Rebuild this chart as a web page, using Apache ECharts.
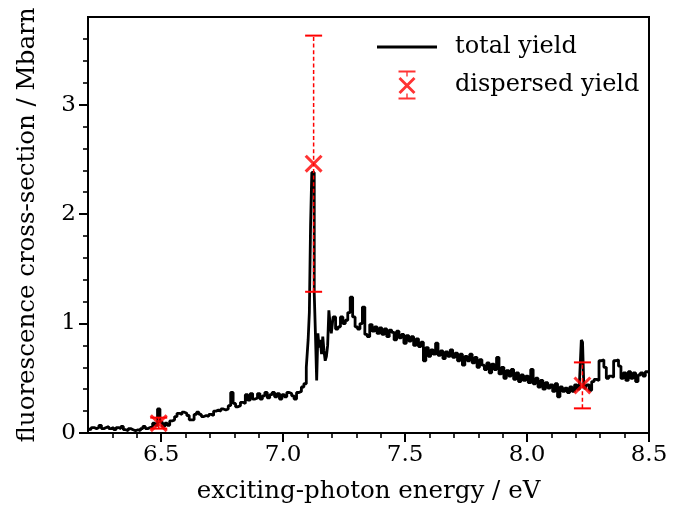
<!DOCTYPE html>
<html><head><meta charset="utf-8">
<script src="https://cdn.jsdelivr.net/npm/echarts@6/dist/echarts.min.js"></script>
<style>html,body{margin:0;padding:0;background:#fff}#c{width:685px;height:512px}</style>
</head><body><div id="c"></div>
<script>
// ---- data ----
const energyEV = [
 6.20,6.21,6.22,6.23,6.24,6.25,6.26,6.27,6.28,6.29,
 6.30,6.31,6.32,6.33,6.34,6.35,6.36,6.37,6.38,6.39,
 6.40,6.41,6.42,6.43,6.44,6.45,6.46,6.47,6.48,6.49,
 6.50,6.51,6.52,6.53,6.54,6.55,6.56,6.57,6.58,6.59,
 6.60,6.61,6.62,6.63,6.64,6.65,6.66,6.67,6.68,6.69,
 6.70,6.71,6.72,6.73,6.74,6.75,6.76,6.77,6.78,6.79,
 6.80,6.81,6.82,6.83,6.84,6.85,6.86,6.87,6.88,6.89,
 6.90,6.91,6.92,6.93,6.94,6.95,6.96,6.97,6.98,6.99,
 7.00,7.01,7.02,7.03,7.04,7.05,7.06,7.07,7.08,7.09,
 7.100,7.105,7.110,7.115,7.120,7.125,7.130,7.135,7.140,7.145,
 7.150,7.155,7.160,7.165,7.170,7.175,7.180,7.185,7.190,7.195,
 7.20,7.21,7.22,7.23,7.24,7.25,7.26,7.27,7.28,7.29,
 7.30,7.31,7.32,7.33,7.34,7.35,7.36,7.37,7.38,7.39,
 7.40,7.41,7.42,7.43,7.44,7.45,7.46,7.47,7.48,7.49,
 7.50,7.51,7.52,7.53,7.54,7.55,7.56,7.57,7.58,7.59,
 7.60,7.61,7.62,7.63,7.64,7.65,7.66,7.67,7.68,7.69,
 7.70,7.71,7.72,7.73,7.74,7.75,7.76,7.77,7.78,7.79,
 7.80,7.81,7.82,7.83,7.84,7.85,7.86,7.87,7.88,7.89,
 7.90,7.91,7.92,7.93,7.94,7.95,7.96,7.97,7.98,7.99,
 8.00,8.01,8.02,8.03,8.04,8.05,8.06,8.07,8.08,8.09,
 8.10,8.11,8.12,8.13,8.14,8.15,8.16,8.17,8.18,8.19,
 8.20,8.21,8.22,8.225,8.23,8.235,8.24,8.25,8.26,8.27,
 8.28,8.29,8.30,8.31,8.32,8.33,8.34,8.35,8.36,8.37,
 8.38,8.39,8.40,8.41,8.42,8.43,8.44,8.45,8.46,8.47,
 8.48,8.49,8.50
];
const totalYield = [
 0.04,0.03,0.05,0.04,0.05,0.07,0.04,0.05,0.06,0.04,
 0.05,0.03,0.05,0.04,0.06,0.03,0.02,0.04,0.03,0.02,
 0.03,0.02,0.04,0.06,0.04,0.05,0.06,0.09,0.07,0.22,
 0.10,0.06,0.09,0.07,0.11,0.12,0.15,0.18,0.17,0.19,
 0.18,0.16,0.12,0.12,0.17,0.19,0.17,0.15,0.16,0.15,
 0.17,0.16,0.20,0.21,0.20,0.22,0.21,0.22,0.25,0.37,
 0.27,0.24,0.25,0.28,0.27,0.35,0.30,0.36,0.31,0.32,
 0.36,0.31,0.34,0.37,0.32,0.35,0.37,0.33,0.36,0.31,
 0.35,0.33,0.37,0.36,0.34,0.31,0.37,0.38,0.42,0.45,
 0.60,0.85,1.10,1.90,2.38,2.38,1.28,0.90,0.48,0.91,
 0.78,0.85,0.72,0.88,0.75,0.66,0.70,0.80,1.12,1.00,
 0.91,1.06,0.95,0.97,1.06,1.00,1.03,1.10,1.24,1.06,
 0.97,0.95,1.00,1.15,0.90,0.88,0.99,0.93,0.97,0.91,
 0.96,0.90,0.95,0.88,0.94,0.92,0.85,0.93,0.87,0.90,
 0.82,0.89,0.84,0.88,0.80,0.86,0.79,0.83,0.66,0.78,
 0.70,0.76,0.72,0.82,0.71,0.75,0.68,0.74,0.70,0.76,
 0.69,0.73,0.66,0.72,0.62,0.70,0.66,0.72,0.64,0.69,
 0.60,0.67,0.62,0.58,0.64,0.55,0.63,0.58,0.69,0.54,
 0.60,0.50,0.57,0.52,0.58,0.49,0.55,0.47,0.53,0.48,
 0.52,0.46,0.58,0.45,0.50,0.42,0.48,0.40,0.46,0.41,
 0.44,0.38,0.45,0.33,0.42,0.38,0.41,0.37,0.42,0.38,
 0.44,0.40,0.47,0.85,0.83,0.45,0.40,0.44,0.39,0.47,
 0.49,0.48,0.66,0.67,0.60,0.50,0.52,0.51,0.66,0.67,
 0.61,0.50,0.55,0.48,0.56,0.50,0.55,0.47,0.53,0.55,
 0.52,0.56,0.55
];
const dispEnergy = [6.49, 7.125, 8.227];
const dispYield  = [0.09, 2.46, 0.435];
const dispErr    = [0.05, 1.17, 0.21];

const xMajorTicks = [6.5, 7.0, 7.5, 8.0, 8.5];
const xMinorTicks = [6.3,6.4,6.6,6.7,6.8,6.9,7.1,7.2,7.3,7.4,7.6,7.7,7.8,7.9,8.1,8.2,8.3,8.4];
const yMajorTicks = [0, 1, 2, 3];
const yMinorTicks = [0.2,0.4,0.6,0.8,1.2,1.4,1.6,1.8,2.2,2.4,2.6,2.8,3.2,3.4,3.6];

const seriesNames = ['total yield', 'dispersed yield'];
const xTitle = 'exciting-photon energy / eV';
const yTitle = 'fluorescence cross-section / Mbarn';

// ---- chart ----
const FONT = 'DejaVu Serif';
const RED = '#ff0000';
const lineData = energyEV.map((e, i) => [e, totalYield[i]]);
const pointData = dispEnergy.map((e, i) => [e, dispYield[i]]);
const errData = dispEnergy.map((e, i) => [e, dispYield[i] - dispErr[i], dispYield[i] + dispErr[i]]);

const xSymbol = 'path://M0,2.4 L2.4,0 L20,17.6 L17.6,20 Z M2.4,20 L0,17.6 L17.6,0 L20,2.4 Z';
const legendLineIcon = 'path://M0,0 L0,0 Z M60,30 L60,30 Z M0,13.6 L60,13.6 L60,16.4 L0,16.4 Z';
const legendErrIcon = 'path://M0,0 L0,0 Z M60,30 L60,30 Z ' +
  'M21.5,0.5 L38.5,0.5 L38.5,2.5 L21.5,2.5 Z M21.5,27.5 L38.5,27.5 L38.5,29.5 L21.5,29.5 Z ' +
  'M29.3,2.5 L30.7,2.5 L30.7,6.5 L29.3,6.5 Z M29.3,23.5 L30.7,23.5 L30.7,27.5 L29.3,27.5 Z ' +
  'M21.5,9 L23.5,7 L38.5,22 L36.5,24 Z M23.5,24 L21.5,22 L36.5,7 L38.5,9 Z';

const axisText = {fontFamily: FONT, fontSize: 23, color: '#000'};
const nameText = {fontFamily: FONT, fontSize: 24.5, color: '#000'};

function majorX(extra) {
  return Object.assign({
    type: 'value', min: 6.2, max: 8.5, position: 'bottom',
    splitLine: {show: false},
    axisLine: {show: true, onZero: false, lineStyle: {color: '#000', width: 2}},
  }, extra);
}

const chart = echarts.init(document.getElementById('c'), null, {renderer: 'canvas'});
chart.setOption({
  animation: false,
  backgroundColor: '#fff',
  grid: {left: 88, right: 36, top: 17, bottom: 79, show: true, borderColor: '#000', borderWidth: 2, backgroundColor: 'transparent'},
  xAxis: [
    majorX({
      name: xTitle, nameLocation: 'middle', nameGap: 46, nameTextStyle: nameText,
      axisTick: {show: true, length: 9, lineStyle: {color: '#000', width: 2}, customValues: xMajorTicks},
      axisLabel: {show: true, margin: 11, customValues: xMajorTicks, formatter: v => Number(v).toFixed(1), ...axisText}
    }),
    majorX({
      axisLine: {show: false},
      axisTick: {show: true, length: 5, lineStyle: {color: '#000', width: 1.6}, customValues: xMinorTicks},
      axisLabel: {show: false}
    })
  ],
  yAxis: [
    {
      type: 'value', min: 0, max: 3.8, position: 'left',
      splitLine: {show: false},
      axisLine: {show: true, onZero: false, lineStyle: {color: '#000', width: 2}},
      name: yTitle, nameLocation: 'middle', nameGap: 48, nameRotate: 90, nameTextStyle: nameText,
      axisTick: {show: true, length: 9, lineStyle: {color: '#000', width: 2}, customValues: yMajorTicks},
      axisLabel: {show: true, margin: 12, customValues: yMajorTicks, formatter: v => String(Math.round(v)), ...axisText}
    },
    {
      type: 'value', min: 0, max: 3.8, position: 'left',
      splitLine: {show: false},
      axisLine: {show: false},
      axisTick: {show: true, length: 5, lineStyle: {color: '#000', width: 1.6}, customValues: yMinorTicks},
      axisLabel: {show: false}
    }
  ],
  legend: {
    orient: 'vertical', left: 372, top: 27, itemWidth: 60, itemHeight: 30, itemGap: 8,
    selectedMode: false,
    textStyle: {fontFamily: FONT, fontSize: 24, color: '#000', padding: [0, 0, 0, 13]},
    data: [
      {name: seriesNames[0], icon: legendLineIcon, itemStyle: {color: '#000'}},
      {name: seriesNames[1], icon: legendErrIcon}
    ]
  },
  series: [
    {
      name: seriesNames[0], type: 'line', step: 'middle', data: lineData,
      symbol: 'none', lineStyle: {color: '#000', width: 2.8}, itemStyle: {color: '#000'},
      z: 2
    },
    {
      type: 'custom', data: errData, z: 3,
      renderItem: function (params, api) {
        const x = api.value(0);
        const pLo = api.coord([x, api.value(1)]);
        const pHi = api.coord([x, api.value(2)]);
        const cap = 8.5;
        return {type: 'group', children: [
          {type: 'line', shape: {x1: pLo[0], y1: pLo[1], x2: pHi[0], y2: pHi[1]}, style: {stroke: RED, lineWidth: 1.5, lineDash: [4, 2.6]}},
          {type: 'line', shape: {x1: pLo[0] - cap, y1: pLo[1], x2: pLo[0] + cap, y2: pLo[1]}, style: {stroke: RED, lineWidth: 2}},
          {type: 'line', shape: {x1: pHi[0] - cap, y1: pHi[1], x2: pHi[0] + cap, y2: pHi[1]}, style: {stroke: RED, lineWidth: 2}}
        ]};
      }
    },
    {
      name: seriesNames[1], type: 'scatter', data: pointData,
      symbol: xSymbol, symbolSize: 18, itemStyle: {color: RED}, z: 4
    }
  ]
});
</script>
</body></html>
